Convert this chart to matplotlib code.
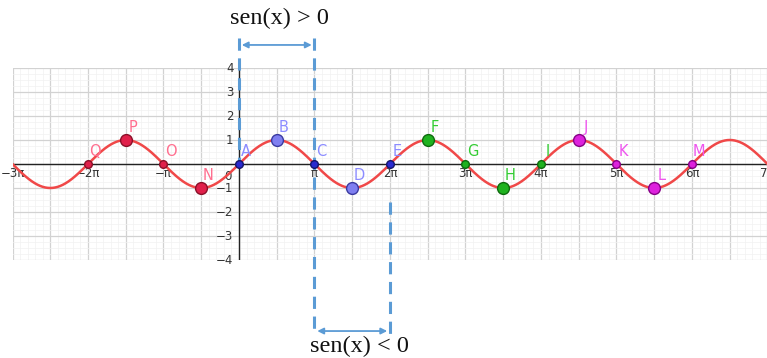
import matplotlib
matplotlib.use("Agg")
import matplotlib.pyplot as plt
import numpy as np

PI = np.pi

# puntos notables de sen(x), abscisas en múltiplos de pi
POINT_NAMES = ["Q", "P", "O", "N", "A", "B", "C", "D", "E",
               "F", "G", "H", "I", "J", "K", "L", "M"]
POINT_X_PI = [-2, -1.5, -1, -0.5, 0, 0.5, 1, 1.5, 2,
              2.5, 3, 3.5, 4, 4.5, 5, 5.5, 6]
POINT_Y = [0, 1, 0, -1, 0, 1, 0, -1, 0, 1, 0, -1, 0, 1, 0, -1, 0]

# grupos de color: (relleno, borde, etiqueta)
GROUPS = {
    "red":    ("#e0204a", "#8a1028", "#ff6f8f"),
    "blue":   ("#7f7ff0", "#3a3aa0", "#8c8cff"),
    "green":  ("#1fb21f", "#0d6a0d", "#33cc33"),
    "purple": ("#dd22dd", "#860086", "#ee55ee"),
}
POINT_GROUP = ["red"] * 4 + ["blue"] * 5 + ["green"] * 4 + ["purple"] * 4

X_TICKS_PI = [-3, -2, -1, 0, 1, 2, 3, 4, 5, 6, 7]
X_TICK_LABELS = ["\u22123\u03c0", "\u22122\u03c0", "\u2212\u03c0", "", "\u03c0", "2\u03c0",
                 "3\u03c0", "4\u03c0", "5\u03c0", "6\u03c0", "7\u03c0"]
Y_TICKS = [-4, -3, -2, -1, 0, 1, 2, 3, 4]
Y_TICK_LABELS = ["\u22124", "\u22123", "\u22122", "\u22121", "", "1", "2", "3", "4"]

DASH_BLUE = "#5b9bd5"

fig = plt.figure(figsize=(7.67, 3.58), dpi=100)
ax = fig.add_axes([12.5 / 767, 1 - 260 / 358, 755 / 767, 192 / 358])

x_lo, x_hi = -3 * PI, 7 * PI
ax.set_xlim(x_lo, x_hi)
ax.set_ylim(-4, 4)

# cuadrícula
ax.set_xticks(np.arange(-3, 7.01, 0.5) * PI)
ax.set_xticks(np.arange(-3, 7.01, 0.1) * PI, minor=True)
ax.set_yticks(np.arange(-4, 4.01, 1))
ax.set_yticks(np.arange(-4, 4.01, 0.25), minor=True)
ax.grid(which="major", color="#d2d2d2", lw=0.9)
ax.grid(which="minor", color="#f1f1f1", lw=0.5)
ax.tick_params(which="both", length=0, labelbottom=False, labelleft=False)
for s in ax.spines.values():
    s.set_visible(False)

ax.axhline(0, color="#222222", lw=1.0, zorder=2)
ax.axvline(0, color="#222222", lw=1.0, zorder=2)

# etiquetas de los ejes
for v, lab in zip(X_TICKS_PI, X_TICK_LABELS):
    ax.annotate(lab, (v * PI, 0), xytext=(0, -2.5), textcoords="offset points",
                ha="center", va="top", fontsize=8.5, color="#333333",
                annotation_clip=False)
for v, lab in zip(Y_TICKS, Y_TICK_LABELS):
    ax.annotate(lab, (0, v), xytext=(-4, 0), textcoords="offset points",
                ha="right", va="center", fontsize=8.5, color="#333333",
                annotation_clip=False)
ax.annotate("0", (0, 0), xytext=(-5, -4), textcoords="offset points",
            ha="right", va="top", fontsize=8.5, color="#333333")

# curva
xs = np.linspace(x_lo, x_hi, 1200)
ax.plot(xs, np.sin(xs), color="#f04848", lw=1.8, zorder=3)

# puntos
for name, xp, yp, g in zip(POINT_NAMES, POINT_X_PI, POINT_Y, POINT_GROUP):
    face, edge, lab_col = GROUPS[g]
    big = yp != 0
    if g == "blue" and not big:
        face, edge = "#2a2ad0", "#15156a"
    ax.plot(xp * PI, yp, "o", ms=8.5 if big else 5.5, mfc=face, mec=edge,
            mew=1.0, zorder=5)
    ax.annotate(name, (xp * PI, yp), xytext=(5, 9), textcoords="offset points",
                ha="center", va="center", fontsize=10.5, color=lab_col, zorder=6)

# líneas discontinuas que delimitan los intervalos
dash = dict(color=DASH_BLUE, lw=2.2, ls=(0, (4, 2.5)), clip_on=False, zorder=4)
ax.plot([0, 0], [5.25, 0], **dash)
ax.plot([PI, PI], [5.25, -7.1], **dash)
ax.plot([2 * PI, 2 * PI], [-1.6, -7.1], **dash)

arrow = dict(arrowstyle="<|-|>", color=DASH_BLUE, lw=1.3, mutation_scale=9,
             shrinkA=2, shrinkB=2)
ax.annotate("", xy=(PI, 4.96), xytext=(0, 4.96), arrowprops=arrow,
            annotation_clip=False)
ax.annotate("", xy=(2 * PI, -6.96), xytext=(PI, -6.96), arrowprops=arrow,
            annotation_clip=False)

ax.text(0.53 * PI, 6.05, "sen(x) > 0", ha="center", va="center",
        fontsize=17.5, family="Liberation Serif", color="#111111", clip_on=False)
ax.text(1.6 * PI, -7.6, "sen(x) < 0", ha="center", va="center",
        fontsize=17.5, family="Liberation Serif", color="#111111", clip_on=False)

fig.savefig("out.png", dpi=100)
